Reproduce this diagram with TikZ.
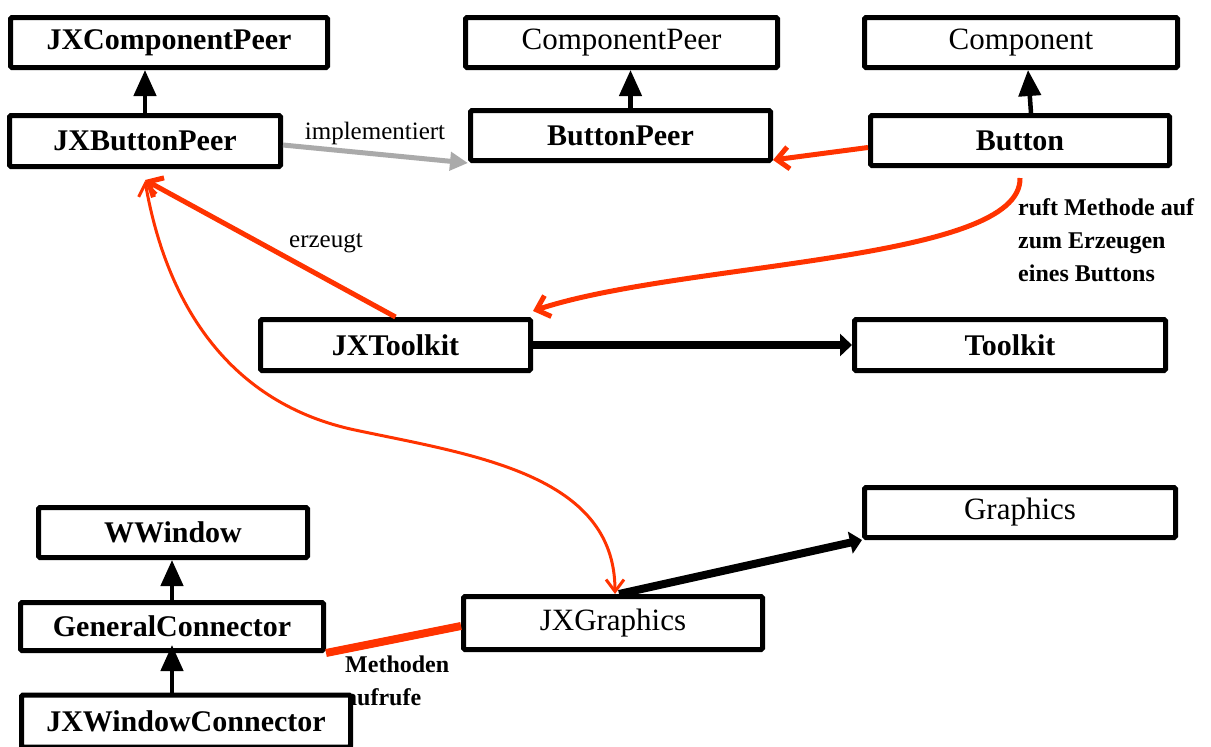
\documentclass[tikz,border=0pt]{standalone}
\usepackage{fontspec}
\setmainfont{Liberation Serif}
\usetikzlibrary{arrows.meta}
\definecolor{redc}{RGB}{255,51,0}
\definecolor{grayc}{RGB}{170,170,170}
\begin{document}
\begin{tikzpicture}[x=1pt,y=-1pt,
  box/.style={draw, line width=5pt, rounded corners=1.5pt, fill=white, inner sep=0pt,
    font=\fontsize{30}{32}\selectfont\bfseries},
  boxr/.style={box, font=\fontsize{31}{32}\selectfont},
  inh/.style={line width=4.5pt, -{Triangle[length=26pt,width=22pt]}},
  thickarr/.style={line width=8pt, -{Triangle[length=12pt,width=22pt]}},
  redarr/.style={draw=redc, line width=5pt, -{Straight Barb[length=12pt,width=22pt]}},
  redthin/.style={draw=redc, line width=3pt, {Straight Barb[length=12pt,width=18pt]}-{Straight Barb[length=12pt,width=18pt]}},
  grayarr/.style={draw=grayc, line width=5pt, -{Triangle[length=18pt,width=18pt]}},
  lbl/.style={inner sep=0pt, font=\fontsize{25}{28}\selectfont},
  lblb/.style={inner sep=0pt, align=left, font=\fontsize{24}{33}\selectfont\bfseries}
]
\useasboundingbox (0,0) rectangle (1211,747);
% labels drawn first (partially covered by boxes)
\node[lblb, anchor=north west] (lmeth) at (345,656) {Methoden\\aufrufe};
% nodes
\node[box, minimum width=317pt, minimum height=50pt] (jxcp) at (169,42.5) {JXComponentPeer};
\node[box, minimum width=271pt, minimum height=51pt] (jxbp) at (145,141) {JXButtonPeer};
\node[boxr, minimum width=312pt, minimum height=50pt] (cp) at (621.5,42.5) {ComponentPeer};
\node[box, minimum width=300pt, minimum height=50pt] (bp) at (620.5,135.5) {ButtonPeer};
\node[boxr, minimum width=313pt, minimum height=50pt] (comp) at (1021,42.5) {Component};
\node[box, minimum width=299pt, minimum height=50pt] (btn) at (1020,140.5) {Button};
\node[box, minimum width=270pt, minimum height=51pt] (jxtk) at (395.5,345) {JXToolkit};
\node[box, minimum width=311pt, minimum height=51pt] (tk) at (1010,345) {Toolkit};
\node[box, minimum width=269pt, minimum height=50pt] (ww) at (173,532.5) {WWindow};
\node[box, minimum width=303pt, minimum height=48pt] (gc) at (172,626.5) {GeneralConnector};
\node[box, minimum width=329pt, minimum height=52pt] (jxwc) at (186,721) {JXWindowConnector};
\node[boxr, minimum width=299pt, minimum height=53pt] (jxg) at (613,623) {JXGraphics};
\node[boxr, minimum width=311pt, minimum height=50pt] (gr) at (1020,512.5) {Graphics};
% other labels
\node[lbl] (limpl) at (375,133) {implementiert};
\node[lbl] (lerz) at (326,243) {erzeugt};
\node[lblb, anchor=north west] (lruft) at (1018,198) {ruft Methode auf\\zum Erzeugen\\eines Buttons};
% inheritance arrows
\draw[inh] (jxbp.north) -- (jxbp.north |- jxcp.south);
\draw[inh] ([xshift=10pt]bp.north) -- ([xshift=10pt]bp.north |- cp.south);
\draw[inh] ([xshift=11pt]btn.north) -- ([xshift=7pt]comp.south);
\draw[inh] (gc.north) -- (gc.north |- ww.south);
\draw[inh] (jxwc.north -| gc.south) -- ([yshift=8pt]gc.south);
% gray implementiert
\draw[grayarr] ([yshift=-4pt]jxbp.east) -- (bp.south west);
% red arrows
\draw[redarr] ([yshift=-7pt]btn.west) -- ([yshift=3pt]bp.south east);
\draw[redarr] (jxtk.north) -- ([yshift=-11pt]jxbp.south);
\draw[redarr] ([yshift=-10pt]btn.south) .. controls (1022,262) and (680,262) .. ([yshift=6pt]jxtk.north east);
\coordinate (w1) at (355,430);
\draw[redthin] ([yshift=-12pt]jxbp.south) to[out=-80,in=168] (w1) to[out=-12,in=90] ([xshift=2pt]jxg.north);
\draw[draw=redc, line width=8pt] (gc.south east) -- ([yshift=-3pt]jxg.west);
% thick black arrows
\draw[thickarr] (jxtk.east) -- (tk.west);
\draw[thickarr] ([xshift=6pt]jxg.north) -- (gr.south west);
\end{tikzpicture}
\end{document}
